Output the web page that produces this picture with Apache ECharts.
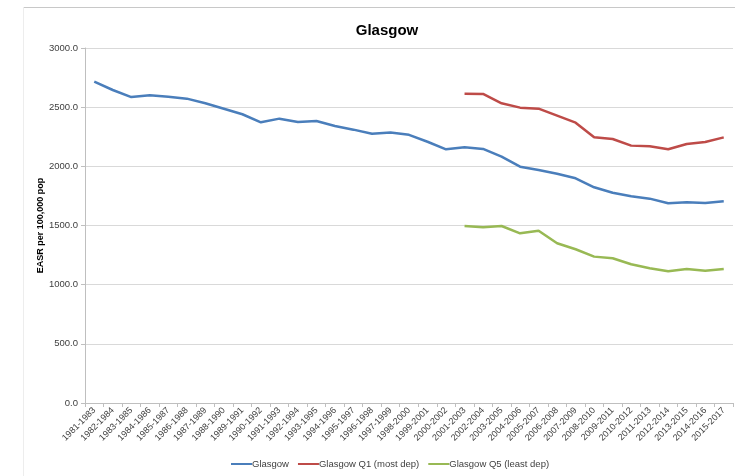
<!DOCTYPE html>
<html><head><meta charset="utf-8">
<script src="https://cdn.jsdelivr.net/npm/echarts@6/dist/echarts.min.js"></script>
<style>html,body{margin:0;padding:0;background:#fff}#c{width:735px;height:476px}</style>
</head><body><div id="c"></div>
<script>
const categories = [];
for (let y = 1981; y <= 2015; y++) categories.push(y + '-' + (y + 2));
const glasgow = [2715,2645,2585,2600,2588,2572,2533,2487,2440,2372,2403,2375,2383,2341,2310,2276,2285,2266,2208,2144,2161,2147,2082,1997,1969,1938,1899,1823,1777,1747,1727,1688,1696,1690,1704];
const q1 = [null,null,null,null,null,null,null,null,null,null,null,null,null,null,null,null,null,null,null,null,2614,2612,2533,2496,2487,2428,2369,2245,2231,2175,2169,2144,2189,2206,2245];
const q5 = [null,null,null,null,null,null,null,null,null,null,null,null,null,null,null,null,null,null,null,null,1496,1485,1496,1434,1456,1350,1299,1237,1223,1172,1138,1113,1132,1118,1132];
const seriesNames = ['Glasgow','Glasgow Q1 (most dep)','Glasgow Q5 (least dep)'];
const colors = ['#4A7EBB','#BE4B48','#98B954'];
const ff = '"Liberation Sans", "DejaVu Sans", sans-serif';
const chart = echarts.init(document.getElementById('c'));
chart.setOption({
  animation:false,
  backgroundColor:'#fff',
  graphic:[
    {type:'line',shape:{x1:23,y1:7.5,x2:735,y2:7.5},style:{stroke:'#c8c8c8',lineWidth:1},silent:true},
    {type:'line',shape:{x1:23.5,y1:7,x2:23.5,y2:476},style:{stroke:'#ededed',lineWidth:1},silent:true}
  ],
  title:{text:'Glasgow',left:382,top:18,textAlign:'center',textStyle:{fontFamily:ff,fontSize:15,fontWeight:'bold',color:'#000'}},
  grid:{left:85,right:2,top:48,bottom:73},
  legend:{top:454,left:226,itemWidth:21,itemHeight:2,itemGap:9,icon:'rect',
    textStyle:{fontFamily:ff,fontSize:9.5,color:'#404040',padding:[0,0,0,-5]},data:seriesNames},
  xAxis:{type:'category',data:categories,boundaryGap:true,
    axisLine:{lineStyle:{color:'#bfbfbf'}},
    axisTick:{show:true,alignWithLabel:false,length:4,lineStyle:{color:'#bfbfbf'}},
    axisLabel:{rotate:45,interval:0,fontFamily:ff,fontSize:9,color:'#404040',margin:6}},
  yAxis:{type:'value',min:0,max:3000,interval:500,
    name:'EASR per 100,000 pop',nameLocation:'middle',nameGap:40,nameMoveOverlap:false,
    nameTextStyle:{fontFamily:ff,fontSize:9,fontWeight:'bold',color:'#000'},
    axisLine:{show:true,lineStyle:{color:'#bfbfbf'}},
    axisTick:{show:true,length:4,lineStyle:{color:'#bfbfbf'}},
    splitLine:{lineStyle:{color:'#d9d9d9'}},
    axisLabel:{fontFamily:ff,fontSize:9.5,color:'#404040',formatter:v=>v.toFixed(1),margin:7}},
  series:[glasgow,q1,q5].map((d,i)=>({name:seriesNames[i],type:'line',data:d,showSymbol:false,symbol:'none',
    connectNulls:false,lineStyle:{color:colors[i],width:2.5},itemStyle:{color:colors[i]}}))
});
</script></body></html>
